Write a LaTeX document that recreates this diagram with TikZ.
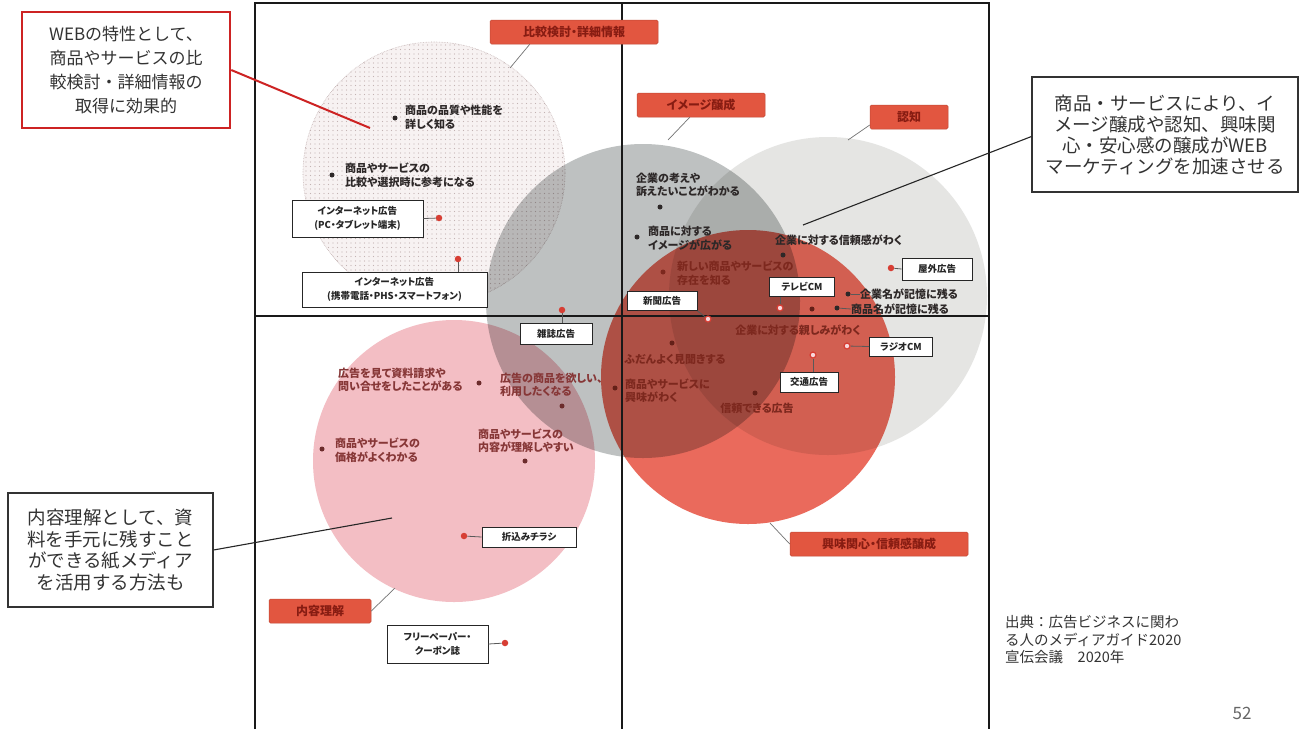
\documentclass[tikz,border=0pt]{standalone}
\usepackage{fontspec}
\setmainfont{Noto Sans CJK JP}
\newfontfamily\jpp{Noto Sans CJK JP}[RawFeature=+palt]
\usetikzlibrary{patterns.meta}
\definecolor{labred}{RGB}{226,86,64}
\definecolor{labtxt}{RGB}{135,28,18}
\definecolor{dotbg}{RGB}{247,242,242}
\definecolor{dotpat}{RGB}{195,178,178}
\definecolor{ninchi}{RGB}{229,229,227}
\definecolor{imagec}{RGB}{190,193,193}
\definecolor{pinkc}{RGB}{243,190,196}
\definecolor{redc}{RGB}{234,106,92}
\definecolor{txtd}{RGB}{45,40,40}
\definecolor{txtr}{RGB}{125,40,30}
\definecolor{txtp}{RGB}{135,55,55}
\definecolor{dotr}{RGB}{215,62,52}
\definecolor{callred}{RGB}{205,35,35}
\begin{document}
\begin{tikzpicture}[x=1pt,y=-1pt,
  ctext/.style={font=\jpp\bfseries\fontsize{11}{13.5}\selectfont, inner sep=0pt, align=left, text=txtd},
  bdot/.style={circle, fill=txtd, inner sep=0pt, minimum size=5pt},
  rdot/.style={circle, fill=dotr, inner sep=0pt, minimum size=6.5pt},
  rring/.style={circle, draw=dotr, fill=pinkc!60, line width=1.2pt, inner sep=0pt, minimum size=6pt},
  wbox/.style={draw=black!85, line width=0.9pt, fill=white, inner sep=0pt, align=center, font=\jpp\bfseries\fontsize{9.5}{14}\selectfont, text=black!85},
  rlab/.style={fill=labred, draw=labred!85!black, line width=0.5pt, rounded corners=1.5pt, inner sep=0pt, minimum height=24pt, font=\jpp\bfseries\fontsize{12}{14}\selectfont, text=labtxt},
  lconn/.style={draw=black!55, line width=0.7pt},
  bconn/.style={draw=black!65, line width=0.8pt},
  callout/.style={draw=black!80, line width=1.1pt, fill=white, align=center, inner sep=0pt, text=black!80},
  frameline/.style={draw=black!90, line width=1.2pt}
]
\useasboundingbox (0,0) rectangle (1303,729);
\fill[white] (0,0) rectangle (1303,729);

% ---- circles
\fill[dotbg] (434,173) circle[radius=131pt];
\fill[pattern={Dots[distance=4.5pt,radius=0.7pt]}, pattern color=dotpat] (434,173) circle[radius=131pt];
\draw[dotpat, densely dotted, line width=0.6pt] (434,173) circle[radius=131pt];
\begin{scope}[blend mode=multiply]
\fill[ninchi] (828,296) circle[radius=159pt];
\fill[imagec] (643,301) circle[radius=157pt];
\fill[pinkc] (454,461) circle[radius=141pt];
\fill[redc] (748,377) circle[radius=147pt];
\end{scope}

% ---- frame and axes
\draw[frameline] (255,729) -- (255,3) -- (989,3) -- (989,729);
\draw[frameline] (622,3) -- (622,729);
\draw[frameline] (255,316) -- (989,316);

% ---- category labels
\node[rlab, minimum width=168pt] (L1) at (574,32) {比較検討・詳細情報};
\node[rlab, minimum width=128pt] (L2) at (701,105) {イメージ醸成};
\node[rlab, minimum width=78pt] (L3) at (909,117) {認知};
\node[rlab, minimum width=178pt] (L4) at (879,544) {興味関心・信頼感醸成};
\node[rlab, minimum width=102pt] (L5) at (320,611) {内容理解};
\coordinate (k1) at (510,68);
\coordinate (k2) at (668,140);
\coordinate (k3) at (848,140);
\coordinate (k4) at (770,523);
\coordinate (k5) at (395,588);
\draw[lconn] ([xshift=40pt]L1.south west) -- (k1);
\draw[lconn] ([xshift=53pt]L2.south west) -- (k2);
\draw[lconn] ([yshift=-8pt]L3.west) -- (k3);
\draw[lconn] (L4.west) -- (k4);
\draw[lconn] (L5.east) -- (k5);

% ---- statements with black dots
\node[ctext, anchor=west] (t1) at (405,117.5) {商品の品質や性能を\\詳しく知る};
\node[bdot] (d1) at (395,118) {};
\node[ctext, anchor=west] (t2) at (345,175) {商品やサービスの\\比較や選択時に参考になる};
\node[bdot] (d2) at (332,175) {};
\node[ctext, anchor=west] (t3) at (636,185) {企業の考えや\\訴えたいことがわかる};
\node[bdot] (d3) at (660,207) {};
\node[ctext, anchor=west] (t4) at (648,238.5) {商品に対する\\イメージが広がる};
\node[bdot] (d4) at (637,237) {};
\node[ctext, anchor=west, text=txtr] (t5) at (677,273) {新しい商品やサービスの\\存在を知る};
\node[bdot, fill=txtr] (d5) at (663,272) {};
\node[ctext, anchor=west] (t6) at (775,240) {企業に対する信頼感がわく};
\node[bdot] (d6) at (783,255) {};
\node[ctext, anchor=west] (t7) at (860,294) {企業名が記憶に残る};
\node[bdot] (d7) at (848,294) {};
\draw[bconn] (d7) -- (t7.west);
\node[ctext, anchor=west] (t8) at (851,309) {商品名が記憶に残る};
\node[bdot] (d8) at (837,308) {};
\draw[bconn] (d8) -- (t8.west);
\node[ctext, anchor=center, text=txtr] (t9) at (798,330) {企業に対する親しみがわく};
\node[bdot, fill=txtr!80!black] (d9) at (812,309) {};
\node[ctext, anchor=center, text=txtr] (t10) at (675,359) {ふだんよく見聞きする};
\node[bdot, fill=txtr!80!black] (d10) at (672,343) {};
\node[ctext, anchor=west, text=txtr] (t11) at (625,390.5) {商品やサービスに\\興味がわく};
\node[bdot, fill=txtr!80!black] (d11) at (615,388) {};
\node[ctext, anchor=center, text=txtr] (t12) at (757,408) {信頼できる広告};
\node[bdot, fill=txtr!80!black] (d12) at (755,393) {};
\node[ctext, anchor=west, text=txtp] (t13) at (338,380) {広告を見て資料請求や\\問い合せをしたことがある};
\node[bdot, fill=txtp!80!black] (d13) at (479,383) {};
\node[ctext, anchor=west, text=txtp] (t14) at (500,385) {広告の商品を欲しい、\\利用したくなる};
\node[bdot, fill=txtp!80!black] (d14) at (562,406) {};
\node[ctext, anchor=west, text=txtp] (t15) at (335,450) {商品やサービスの\\価格がよくわかる};
\node[bdot, fill=txtp!80!black] (d15) at (322,449) {};
\node[ctext, anchor=west, text=txtp] (t16) at (478,440.5) {商品やサービスの\\内容が理解しやすい};
\node[bdot, fill=txtp!80!black] (d16) at (525,461) {};

% ---- media boxes with red dots
\node[wbox, minimum width=131pt, minimum height=37pt] (W1) at (357.5,218.5) {インターネット広告\\(PC・タブレット端末)};
\node[rdot] (r1) at (439,218) {};
\draw[bconn] (W1.east) -- (r1);
\node[wbox, minimum width=185pt, minimum height=35pt] (W2) at (394.5,289.5) {インターネット広告\\(携帯電話・PHS・スマートフォン)};
\node[rdot] (r2) at (458,259) {};
\draw[bconn] (r2) -- (r2 |- W2.north);
\node[wbox, minimum width=72pt, minimum height=21pt] (W3) at (556,334) {雑誌広告};
\node[rdot] (r3) at (562,310) {};
\draw[bconn] (r3) -- (r3 |- W3.north);
\node[wbox, minimum width=70pt, minimum height=19pt] (W4) at (662,301) {新聞広告};
\node[rring] (r4) at (708,319) {};
\draw[bconn] (W4.south east) -- (r4);
\node[wbox, minimum width=65pt, minimum height=19pt] (W5) at (802,287) {テレビCM};
\node[rring] (r5) at (780,308) {};
\draw[bconn] (r5) -- (r5 |- W5.south);
\node[wbox, minimum width=70pt, minimum height=22pt] (W6) at (937,269) {屋外広告};
\node[rdot] (r6) at (891,268) {};
\draw[bconn] (r6) -- (W6.west);
\node[wbox, minimum width=63pt, minimum height=19pt] (W7) at (901,346.5) {ラジオCM};
\node[rring] (r7) at (847,346) {};
\draw[bconn] (r7) -- (W7.west);
\node[wbox, minimum width=58pt, minimum height=20pt] (W8) at (809,382) {交通広告};
\node[rring] (r8) at (813,355) {};
\draw[bconn] (r8) -- (r8 |- W8.north);
\node[wbox, minimum width=94pt, minimum height=20pt] (W9) at (529,537) {折込みチラシ};
\node[rdot] (r9) at (464,536) {};
\draw[bconn] (r9) -- (W9.west);
\node[wbox, minimum width=101pt, minimum height=38pt] (W10) at (437.5,644) {フリーペーパー・\\クーポン誌};
\node[rdot] (r10) at (505,643) {};
\draw[bconn] (W10.east) -- (r10);

% ---- callouts
\node[callout, draw=callred, line width=2.5pt, minimum width=208pt, minimum height=116pt,
      font=\fontsize{17}{24}\selectfont] (C1) at (126,70)
  {WEBの特性として、\\商品やサービスの比\\較検討・詳細情報の\\取得に効果的};
\coordinate (e1) at (370,128);
\draw[callred, line width=2pt] (C1.east) -- (e1);
\node[callout, minimum width=266pt, minimum height=115pt,
      font=\fontsize{18.5}{21}\selectfont] (C2) at (1165,134.5)
  {商品・サービスにより、イ\\メージ醸成や認知、興味関\\心・安心感の醸成がWEB\\マーケティングを加速させる};
\coordinate (e2) at (803,225);
\draw[black!85, line width=1.1pt] ([yshift=-2pt]C2.west) -- (e2);
\node[callout, minimum width=205pt, minimum height=114pt,
      font=\fontsize{18.5}{21.5}\selectfont] (C3) at (110.5,550)
  {内容理解として、資\\料を手元に残すこと\\ができる紙メディア\\を活用する方法も};
\coordinate (e3) at (392,518);
\draw[black!85, line width=1.1pt] (C3.east) -- (e3);

% ---- source and page number
\node[anchor=west, align=left, inner sep=0pt, text=black!80, font=\fontsize{14.5}{17.5}\selectfont] (src) at (1005,640)
  {出典：広告ビジネスに関わ\\る人のメディアガイド2020\\宣伝会議　2020年};
\node[inner sep=0pt, text=black!60, font=\fontsize{17}{20}\selectfont] (pg) at (1242,713) {52};
\end{tikzpicture}
\end{document}
